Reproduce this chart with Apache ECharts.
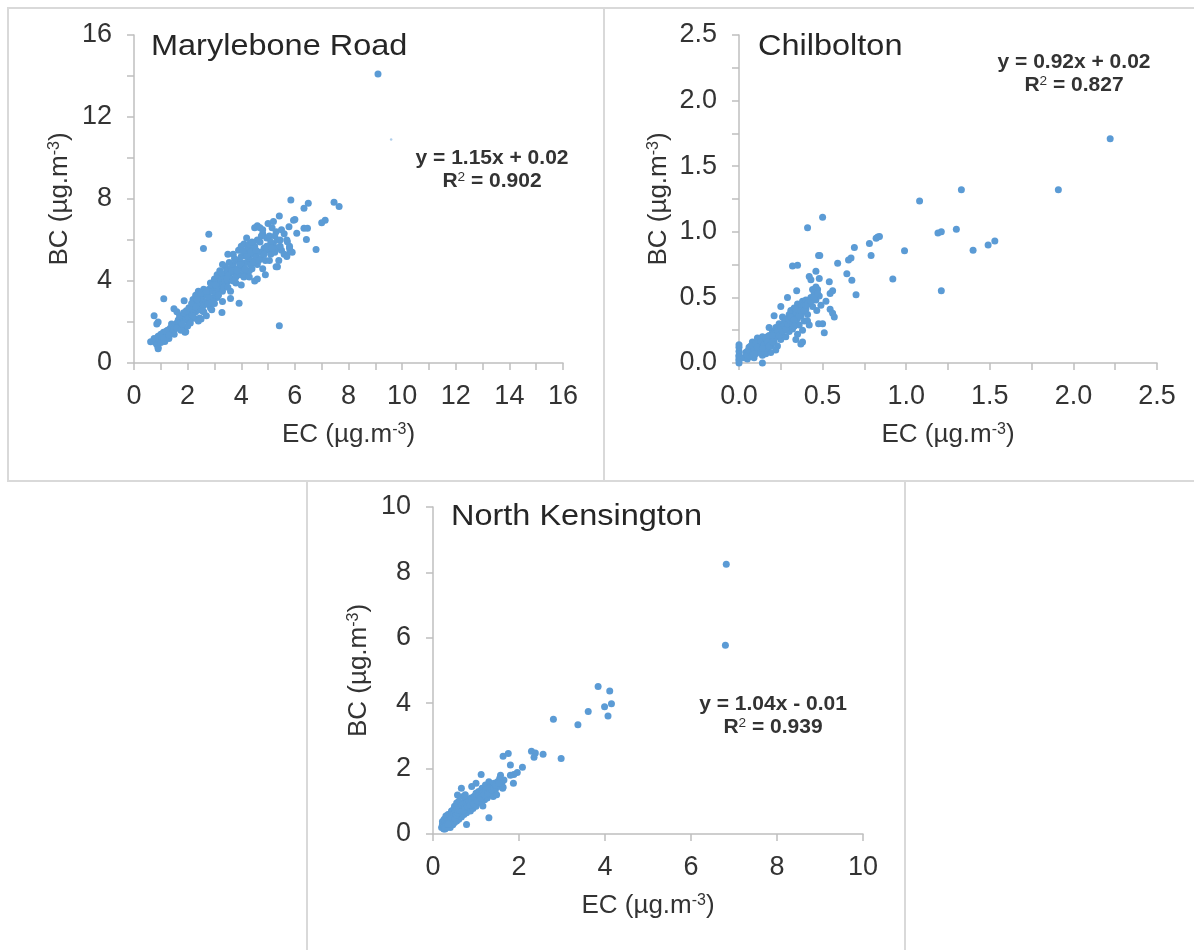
<!DOCTYPE html>
<html>
<head>
<meta charset="utf-8">
<script src="https://cdn.jsdelivr.net/npm/echarts@6/dist/echarts.min.js"></script>
<style>
  html, body { margin: 0; padding: 0; background: #fff; }
  #chart { width: 1194px; height: 950px; }
</style>
</head>
<body>
<div id="chart"></div>
<script>
// EC (x) vs BC (y)
const marylebonePts = [
  [9.1, 14.1], [5.42, 1.82], [2.79, 6.28], [2.59, 5.59], [1.11, 3.14], [6.79, 5.54],
  [7.46, 7.84], [7.65, 7.63], [5.85, 7.95], [6.5, 7.79], [6.34, 7.55], [7.13, 6.96],
  [7.0, 6.84], [5.42, 7.17], [5.95, 6.96], [6.43, 6.03], [6.34, 6.57], [6.47, 6.57],
  [5.78, 6.65], [6.07, 6.33], [5.72, 5.92], [5.82, 5.43], [5.35, 4.7], [3.92, 2.91],
  [3.28, 2.46], [3.6, 3.15], [1.87, 3.04], [1.49, 2.65], [0.75, 2.31], [0.62, 1.04],
  [0.9, 0.76], [1.93, 1.53], [2.24, 2.18],
  [0.75, 1.2], [0.8, 1.0], [0.85, 0.9], [0.9, 1.3], [0.95, 1.1], [1.0, 1.4], [1.05, 1.2],
  [0.9, 0.7], [1.1, 1.5], [1.2, 1.3], [1.25, 1.6], [1.3, 1.45], [1.35, 1.7], [1.4, 1.55],
  [1.45, 1.8], [0.85, 1.9], [0.9, 2.0], [1.15, 1.05], [1.3, 1.2], [1.5, 1.4],
  [1.55, 1.75], [1.6, 1.95], [1.65, 2.1], [1.7, 1.8], [1.75, 2.0], [1.8, 2.2], [1.85, 1.65],
  [1.9, 2.3], [1.95, 2.1], [2.0, 2.4], [2.05, 2.2], [2.1, 2.6], [2.15, 2.35], [2.2, 2.55],
  [2.25, 2.8], [2.3, 2.5], [2.35, 2.7], [2.4, 3.0], [2.45, 2.6], [1.6, 2.5], [1.9, 1.5],
  [2.0, 1.8], [2.2, 3.1], [2.3, 3.3], [2.4, 3.5], [2.45, 2.2], [2.5, 2.15], [2.4, 2.05],
  [2.5, 2.9], [2.55, 3.2], [2.6, 2.8], [2.65, 3.4], [2.7, 3.0], [2.75, 3.3], [2.8, 3.6],
  [2.85, 2.7], [2.9, 3.5], [2.95, 3.2], [3.0, 3.7], [3.05, 3.4], [3.1, 3.9], [3.15, 3.6],
  [3.2, 4.1], [3.25, 3.8], [3.3, 3.5], [3.35, 4.2], [3.4, 3.9], [3.45, 4.4], [2.6, 2.5],
  [2.9, 2.6], [3.0, 2.9], [3.1, 3.2], [3.2, 4.5], [3.3, 3.0], [3.4, 4.7], [3.5, 4.5],
  [2.7, 2.3], [2.85, 3.9], [3.0, 4.1],
  [3.5, 4.0], [3.55, 4.3], [3.6, 4.6], [3.65, 4.1], [3.7, 4.8], [3.75, 4.4], [3.8, 4.2],
  [3.85, 5.0], [3.9, 4.6], [3.95, 4.3], [4.0, 5.2], [4.05, 4.7], [4.1, 4.5], [4.15, 5.4],
  [4.2, 4.9], [4.25, 5.6], [4.3, 5.1], [4.35, 4.8], [4.4, 5.5], [4.45, 5.3], [3.6, 3.5],
  [3.7, 5.3], [3.8, 3.9], [3.9, 5.5], [4.0, 3.8], [4.1, 5.8], [4.2, 4.3], [4.3, 5.8],
  [4.4, 4.6], [4.5, 4.0], [4.6, 4.1], [3.8, 4.55], [4.0, 4.9], [4.1, 4.2], [4.3, 4.5],
  [4.5, 5.0],
  [4.5, 5.7], [4.55, 5.2], [4.6, 6.0], [4.65, 5.4], [4.7, 5.9], [4.75, 5.1], [4.8, 6.3],
  [4.85, 5.6], [4.9, 5.0], [4.95, 6.1], [5.0, 5.5], [5.05, 6.2], [5.1, 5.3], [5.15, 6.6],
  [5.2, 5.8], [5.25, 5.4], [5.3, 6.4], [5.35, 5.6], [5.4, 5.0], [5.45, 6.0], [4.5, 6.6],
  [4.6, 6.7], [4.7, 6.6], [4.6, 4.8], [4.8, 4.6], [4.9, 4.3], [5.0, 6.8], [5.2, 6.9],
  [5.3, 4.7], [5.5, 5.5], [5.6, 5.3], [5.7, 6.0], [5.6, 6.3], [5.5, 6.5], [5.8, 5.6],
  [5.9, 5.4], [5.7, 5.2], [6.0, 7.0], [5.8, 5.7], [4.7, 5.4], [5.1, 5.9], [4.4, 5.9],
  [1.0, 1.0], [1.1, 1.25], [1.2, 1.55], [1.3, 1.35], [1.4, 1.9], [1.5, 1.65], [1.6, 1.7],
  [1.7, 2.3], [1.75, 1.6], [1.8, 1.9], [1.85, 2.45], [1.95, 2.55], [2.05, 2.7], [2.1, 1.95],
  [2.15, 2.9], [2.2, 2.3], [2.3, 2.75], [2.35, 3.1], [2.5, 3.4], [2.55, 2.55], [2.6, 3.6],
  [2.7, 3.5], [2.75, 2.9], [2.8, 3.2], [2.9, 3.8], [2.95, 3.0], [3.05, 3.8], [3.1, 4.3],
  [3.15, 3.3], [3.25, 4.4], [3.35, 3.7], [3.45, 4.1], [3.5, 3.7], [3.55, 4.9], [3.65, 4.5],
  [3.7, 4.0], [3.75, 5.1], [3.85, 4.5], [3.95, 4.8], [4.05, 5.5], [4.15, 4.6], [4.2, 5.2],
  [4.3, 4.2], [4.35, 5.4], [4.45, 4.9], [4.55, 5.5], [4.65, 5.0], [4.75, 6.2], [4.85, 5.3],
  [4.95, 5.7], [5.05, 5.0], [5.15, 5.6], [5.25, 6.2], [5.35, 6.0], [5.45, 5.7], [3.3, 4.8],
  [3.5, 5.3], [4.0, 5.7], [4.2, 6.1], [4.8, 6.5]
];
const maryleboneFaint = [[9.59, 10.9]];

const chilboltonPts = [
  [2.22, 1.71], [1.91, 1.32], [1.33, 1.32], [1.08, 1.235], [0.5, 1.11], [0.41, 1.03],
  [1.3, 1.02], [1.19, 0.99], [1.21, 1.0], [1.53, 0.93], [1.49, 0.9], [1.4, 0.86],
  [0.99, 0.855], [1.21, 0.55], [0.92, 0.64], [0.83, 0.96], [0.84, 0.965], [0.82, 0.95],
  [0.78, 0.91], [0.79, 0.82], [0.69, 0.88], [0.67, 0.8], [0.655, 0.785], [0.59, 0.76],
  [0.645, 0.68], [0.675, 0.63], [0.7, 0.52], [0.476, 0.82], [0.483, 0.82], [0.32, 0.74],
  [0.35, 0.745], [0.46, 0.7], [0.42, 0.66], [0.43, 0.635], [0.48, 0.645], [0.54, 0.62],
  [0.56, 0.55], [0.545, 0.53], [0.57, 0.35], [0.545, 0.41], [0.56, 0.38], [0.465, 0.4],
  [0.476, 0.3], [0.5, 0.3], [0.51, 0.23], [0.41, 0.32], [0.38, 0.16], [0.37, 0.145],
  [0.29, 0.5], [0.345, 0.55], [0.14, 0.0],
  [0, 0.0], [0, 0.03], [0, 0.06], [0, 0.09], [0, 0.12], [0, 0.14], [0, 0.02], [0, 0.05],
  [0.03, 0.04], [0.04, 0.08], [0.05, 0.03], [0.06, 0.07], [0.06, 0.12], [0.07, 0.05],
  [0.08, 0.09], [0.08, 0.16], [0.09, 0.04], [0.1, 0.11], [0.1, 0.07], [0.11, 0.14],
  [0.12, 0.09], [0.12, 0.17], [0.13, 0.12], [0.14, 0.06], [0.14, 0.15], [0.15, 0.18],
  [0.15, 0.11], [0.16, 0.14], [0.17, 0.2], [0.17, 0.09], [0.18, 0.17], [0.19, 0.13],
  [0.19, 0.21], [0.2, 0.19], [0.2, 0.24], [0.21, 0.16], [0.22, 0.22], [0.22, 0.27],
  [0.23, 0.2], [0.23, 0.13], [0.24, 0.25], [0.24, 0.3], [0.25, 0.22], [0.25, 0.18],
  [0.26, 0.28], [0.26, 0.35], [0.27, 0.25], [0.27, 0.31], [0.28, 0.2], [0.28, 0.29],
  [0.29, 0.34], [0.29, 0.27], [0.3, 0.37], [0.3, 0.31], [0.3, 0.24], [0.31, 0.28],
  [0.31, 0.4], [0.32, 0.33], [0.32, 0.26], [0.33, 0.36], [0.33, 0.42], [0.34, 0.31],
  [0.34, 0.38], [0.35, 0.45], [0.35, 0.34], [0.36, 0.4], [0.36, 0.29], [0.37, 0.43],
  [0.37, 0.36], [0.38, 0.47], [0.38, 0.39], [0.39, 0.32], [0.39, 0.44], [0.4, 0.48],
  [0.4, 0.41], [0.41, 0.37], [0.42, 0.46], [0.43, 0.5], [0.44, 0.43], [0.45, 0.53],
  [0.46, 0.48], [0.47, 0.56], [0.48, 0.51], [0.25, 0.43], [0.21, 0.36], [0.18, 0.27],
  [0.14, 0.2], [0.11, 0.19], [0.09, 0.13], [0.07, 0.1], [0.05, 0.09], [0.16, 0.07],
  [0.19, 0.08], [0.22, 0.1], [0.35, 0.22], [0.38, 0.25], [0.42, 0.29], [0.34, 0.18],
  [0.44, 0.56], [0.46, 0.58], [0.49, 0.44], [0.52, 0.47],
  [0.05, 0.06], [0.06, 0.1], [0.07, 0.13], [0.08, 0.06], [0.09, 0.1], [0.1, 0.15],
  [0.11, 0.09], [0.12, 0.13], [0.13, 0.16], [0.13, 0.08], [0.15, 0.14], [0.16, 0.19],
  [0.16, 0.11], [0.17, 0.16], [0.18, 0.21], [0.18, 0.13], [0.2, 0.16], [0.21, 0.22],
  [0.21, 0.19], [0.23, 0.24], [0.24, 0.21], [0.25, 0.27], [0.26, 0.24], [0.27, 0.29],
  [0.28, 0.33], [0.28, 0.26], [0.29, 0.3], [0.3, 0.33], [0.31, 0.35], [0.32, 0.3],
  [0.33, 0.33], [0.34, 0.41], [0.36, 0.36], [0.37, 0.4], [0.39, 0.4], [0.4, 0.44],
  [0.41, 0.45], [0.43, 0.47], [0.45, 0.5], [0.47, 0.53], [0.09, 0.07], [0.11, 0.12],
  [0.14, 0.11], [0.2, 0.21], [0.33, 0.28]
];

const kensingtonPts = [
  [6.82, 8.25], [6.8, 5.77], [3.84, 4.51], [4.11, 4.37], [4.15, 3.98], [3.99, 3.89],
  [4.07, 3.61], [3.61, 3.75], [2.8, 3.51], [3.37, 3.34], [2.98, 2.31], [2.29, 2.53],
  [2.38, 2.48], [2.35, 2.35], [2.56, 2.44], [1.63, 2.38], [1.75, 2.46], [1.8, 2.11],
  [2.08, 2.04], [1.96, 1.88], [1.88, 1.82], [1.8, 1.8], [1.87, 1.55], [1.63, 1.43],
  [1.3, 0.5], [0.78, 0.29], [1.16, 0.86], [0.66, 1.4], [0.57, 1.19], [1.12, 1.82],
  [1.57, 1.8],
  [0.2, 0.2], [0.22, 0.3], [0.25, 0.15], [0.25, 0.35], [0.28, 0.25], [0.3, 0.4], [0.3, 0.18],
  [0.32, 0.3], [0.33, 0.5], [0.35, 0.22], [0.36, 0.4], [0.38, 0.3], [0.38, 0.6], [0.4, 0.45],
  [0.4, 0.2], [0.42, 0.35], [0.43, 0.7], [0.45, 0.52], [0.46, 0.28], [0.48, 0.42],
  [0.48, 0.75], [0.5, 0.6], [0.5, 0.35], [0.52, 0.5], [0.53, 0.8], [0.55, 0.65], [0.55, 0.4],
  [0.57, 0.55], [0.58, 0.85], [0.6, 0.7], [0.6, 0.45], [0.62, 0.6], [0.63, 0.9], [0.65, 0.75],
  [0.66, 0.52], [0.68, 0.65], [0.7, 0.95], [0.7, 0.8], [0.72, 0.6], [0.74, 0.72], [0.75, 1.0],
  [0.76, 0.85], [0.78, 0.65], [0.8, 0.9], [0.8, 0.75], [0.82, 1.05], [0.84, 0.8], [0.85, 0.95],
  [0.87, 0.7], [0.88, 1.1], [0.9, 0.88], [0.92, 1.0], [0.93, 0.78], [0.95, 1.15], [0.96, 0.95],
  [0.98, 1.05], [1.0, 0.85], [1.0, 1.25], [1.02, 1.1], [1.05, 0.95], [1.06, 1.3], [1.08, 1.05],
  [1.1, 1.2], [1.12, 1.0], [1.14, 1.4], [1.16, 1.15], [1.18, 1.3], [1.2, 1.05], [1.22, 1.5],
  [1.24, 1.25], [1.26, 1.1], [1.28, 1.35], [1.3, 1.6], [1.32, 1.2], [1.35, 1.45], [1.38, 1.3],
  [1.4, 1.15], [1.42, 1.55], [1.45, 1.35], [1.48, 1.2], [1.5, 1.6], [1.52, 1.45], [1.55, 1.7],
  [1.6, 1.55], [1.62, 1.4], [1.65, 1.65], [0.5, 0.85], [0.45, 0.7], [0.55, 0.95], [0.7, 1.15],
  [0.75, 1.2], [0.9, 1.45], [1.0, 1.55], [0.6, 1.0], [0.3, 0.55], [0.35, 0.6], [0.26, 0.45],
  [0.22, 0.38],
  [0.25, 0.25], [0.27, 0.32], [0.3, 0.28], [0.32, 0.4], [0.34, 0.35], [0.36, 0.5], [0.38, 0.42],
  [0.4, 0.55], [0.42, 0.48], [0.44, 0.6], [0.46, 0.5], [0.48, 0.62], [0.5, 0.5], [0.52, 0.68],
  [0.54, 0.58], [0.56, 0.75], [0.58, 0.65], [0.6, 0.8], [0.62, 0.72], [0.64, 0.85], [0.66, 0.7],
  [0.68, 0.88], [0.7, 0.72], [0.72, 0.92], [0.74, 0.82], [0.78, 0.95], [0.8, 0.85], [0.83, 0.98],
  [0.86, 0.88], [0.9, 1.05], [0.94, 0.92], [0.97, 1.12], [1.03, 1.02], [1.07, 1.18], [1.11, 1.1],
  [1.15, 1.25], [1.19, 1.2], [1.23, 1.35], [1.27, 1.25], [1.31, 1.4], [1.36, 1.35], [1.41, 1.4],
  [1.46, 1.5], [1.53, 1.55], [0.28, 0.15], [0.35, 0.3]
];

const siteNames = ['Marylebone Road', 'Chilbolton', 'North Kensington'];
const fitEquations = ['y = 1.15x + 0.02', 'y = 0.92x + 0.02', 'y = 1.04x - 0.01'];
const fitR2 = ['0.902', '0.827', '0.939'];
const axisMax = [16, 2.5, 10];
const xInterval = [2, 0.5, 2];
const yInterval = [4, 0.5, 2];
const xMinorSplit = [2, 2, 0];
const yMinorSplit = [2, 2, 0];
const labelDigits = [0, 1, 0];

const FONT = "'Liberation Sans', Arial, sans-serif";
const gray = '#bfbfbf';
const dotColor = '#5b9bd5';

const grids = [
  { left: 134, top: 35, width: 429, height: 328 },
  { left: 739, top: 35, width: 418, height: 328 },
  { left: 433, top: 507, width: 430, height: 327 }
];
const yNameGap = [61, 67, 61];

const chart = echarts.init(document.getElementById('chart'));

function makeAxis(i, isX) {
  const split = isX ? xMinorSplit[i] : yMinorSplit[i];
  const lineStyle = { color: gray, width: 1.5 };
  return {
    gridIndex: i,
    type: 'value',
    min: 0,
    max: axisMax[i],
    interval: isX ? xInterval[i] : yInterval[i],
    name: (isX ? 'EC' : 'BC') + ' (µg.m{sup|-3})',
    nameLocation: 'middle',
    nameGap: isX ? 59 : yNameGap[i],
    nameTextStyle: {
      fontSize: 26,
      color: '#333',
      fontFamily: FONT,
      rich: { sup: { fontSize: 16, color: '#333', fontFamily: FONT, verticalAlign: 'top' } }
    },
    axisLine: { lineStyle: lineStyle },
    axisTick: { length: 7, lineStyle: lineStyle },
    minorTick: { show: split > 0, splitNumber: split || 5, length: 7, lineStyle: lineStyle },
    splitLine: { show: false },
    axisLabel: {
      fontSize: 27,
      color: '#333',
      fontFamily: FONT,
      margin: isX ? 20 : 22,
      formatter: v => v.toFixed(labelDigits[i])
    }
  };
}

const xAxes = [0, 1, 2].map(i => makeAxis(i, true));
const yAxes = [0, 1, 2].map(i => makeAxis(i, false));

const allPts = [marylebonePts, chilboltonPts, kensingtonPts];
const series = allPts.map((pts, i) => ({
  type: 'scatter',
  xAxisIndex: i,
  yAxisIndex: i,
  symbolSize: 7,
  itemStyle: { color: dotColor, opacity: 1 },
  data: pts
}));
series.push({
  type: 'scatter',
  xAxisIndex: 0,
  yAxisIndex: 0,
  symbolSize: 2.5,
  itemStyle: { color: '#9cc3e6' },
  data: maryleboneFaint
});

// panel frames, titles and fit equations
const frames = [
  [8, 8, 596, 473],
  [604, 8, 600, 473],
  [307, 481, 598, 480]
];
const titlePos = [[151, 47], [758, 47], [451, 517]];
const eqPos = [[492, 158], [1074, 62], [773, 704]];

const graphic = [];
frames.forEach(f => graphic.push({
  type: 'rect',
  shape: { x: f[0], y: f[1], width: f[2], height: f[3] },
  style: { fill: 'none', stroke: '#d9d9d9', lineWidth: 2 },
  silent: true
}));
siteNames.forEach((name, i) => graphic.push({
  type: 'text',
  x: titlePos[i][0],
  y: titlePos[i][1],
  scaleX: 1.12,
  style: { text: name, font: '29px ' + FONT, fill: '#262626', align: 'left', verticalAlign: 'middle' }
}));
fitEquations.forEach((eq, i) => {
  graphic.push({
    type: 'text',
    x: eqPos[i][0],
    y: eqPos[i][1],
    scaleX: 1.05,
    style: { text: eq, font: 'bold 20px ' + FONT, fill: '#333', align: 'center', verticalAlign: 'middle' }
  });
  graphic.push({
    type: 'text',
    x: eqPos[i][0],
    y: eqPos[i][1] + 23,
    scaleX: 1.05,
    style: {
      text: 'R{sup|2} = ' + fitR2[i],
      font: 'bold 20px ' + FONT,
      fill: '#333',
      align: 'center',
      verticalAlign: 'middle',
      rich: { sup: { fontSize: 13, fontWeight: 'normal', fill: '#333', verticalAlign: 'top', fontFamily: FONT } }
    }
  });
});

chart.setOption({
  animation: false,
  backgroundColor: '#fff',
  grid: grids,
  xAxis: xAxes,
  yAxis: yAxes,
  series: series,
  graphic: graphic
});
</script>
</body>
</html>
